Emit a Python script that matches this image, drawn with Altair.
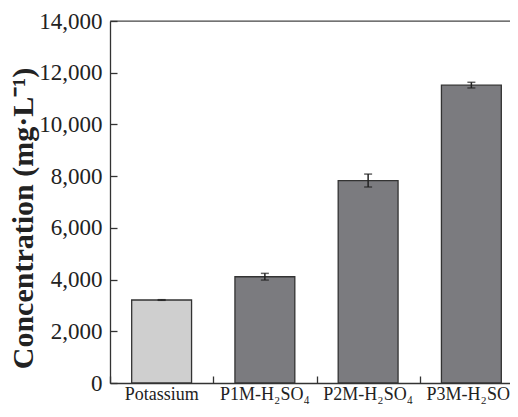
import altair as alt
import pandas as pd

categories = ["Potassium", "P1M-H₂SO₄", "P2M-H₂SO₄", "P3M-H₂SO₄"]
values = [3210, 4110, 7830, 11520]
errors = [12, 130, 250, 110]
bar_colors = ["#cfcfcf", "#7b7b7f", "#7b7b7f", "#7b7b7f"]
y_ticks = [0, 2000, 4000, 6000, 8000, 10000, 12000, 14000]

df = pd.DataFrame({
    "cat": categories,
    "val": values,
    "lo": [v - e for v, e in zip(values, errors)],
    "hi": [v + e for v, e in zip(values, errors)],
})

FONT = "Liberation Serif"
DARK = "#333333"
W, H = 400, 362

xscale = alt.Scale(domain=categories, range=[0, 413], paddingInner=0, paddingOuter=0)
yscale = alt.Scale(domain=[0, 14000], nice=False)

base = alt.Chart(df)

bars = base.mark_bar(stroke=DARK, strokeWidth=1.3, width=alt.RelativeBandSize(band=0.58)).encode(
    x=alt.X("cat:N", scale=xscale, sort=categories,
            axis=alt.Axis(orient="bottom", title=None, labelAngle=0, ticks=False, tickSize=0,
                          labelFont=FONT, labelFontSize=18, labelColor="#222222",
                          labelPadding=2, domainColor=DARK, domainWidth=1.3)),
    y=alt.Y("val:Q", scale=yscale,
            axis=alt.Axis(orient="left", values=y_ticks,
                          labelExpr="format(datum.value, ',')",
                          ticks=False, tickSize=0,
                          grid=False, labelFont=FONT, labelFontSize=23, labelColor="#222222",
                          labelPadding=8, domainColor=DARK, domainWidth=1.3,
                          title="Concentration (mg·L⁻¹)", titleFont=FONT, titleFontSize=30,
                          titleFontWeight="bold", titleColor="#222222",
                          titleX=-87, titleY=197, titleAngle=270,
                          titleAlign="center", titleBaseline="middle")),
    color=alt.Color("cat:N", scale=alt.Scale(domain=categories, range=bar_colors), legend=None),
)

err = base.mark_rule(color="#222222", strokeWidth=1.5).encode(
    x=alt.X("cat:N", scale=xscale, sort=categories,
            axis=alt.Axis(orient="top", offset=-H, title=None, labels=False, domain=False,
                          ticks=True, tickBand="extent", tickSize=7, tickColor=DARK,
                          tickWidth=1.3)),
    y=alt.Y("lo:Q", scale=yscale,
            axis=alt.Axis(orient="right", offset=-W, title=None, labels=False, domain=False,
                          grid=False, values=y_ticks, ticks=True, tickSize=7, tickColor=DARK,
                          tickWidth=1.3)),
    y2="hi:Q",
)

caps = base.transform_fold(["lo", "hi"], as_=["k", "v"]).mark_tick(
    color="#222222", size=8, thickness=1.5
).encode(
    x=alt.X("cat:N", scale=xscale, sort=categories, axis=None),
    y=alt.Y("v:Q", scale=yscale, axis=None),
)

chart = alt.layer(bars, err, caps).resolve_axis(x="independent", y="independent").properties(
    width=W, height=H,
    autosize=alt.AutoSizeParams(type="none"),
    padding={"left": 102, "top": 13, "right": 0, "bottom": 22},
).configure_view(stroke="#444444", strokeWidth=1.3, strokeDash=[W, 3000])

chart.save("out.html", embed_options={"renderer": "svg", "actions": False})
